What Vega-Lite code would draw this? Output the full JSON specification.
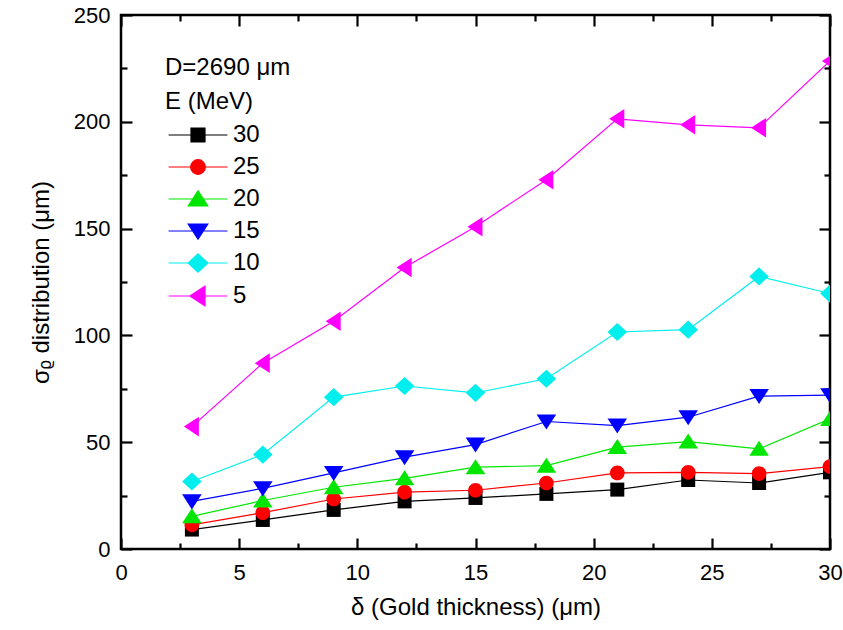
{
  "$schema": "https://vega.github.io/schema/vega-lite/v6.json",
  "width": 709,
  "height": 534,
  "autosize": "none",
  "padding": {"left": 121, "top": 15, "right": 13, "bottom": 81},
  "config": {
    "view": {"stroke": "black", "strokeWidth": 2.5},
    "font": "Liberation Sans",
    "axis": {"domain": false, "grid": false, "labelFlush": false, "tickColor": "black", "tickWidth": 2.2, "labelColor": "black", "titleColor": "black", "labelFont": "Liberation Sans", "titleFont": "Liberation Sans", "labelFontSize": 22, "titleFontSize": 24, "titleFontWeight": "normal"}
  },
  "data": {"values": [
    {"E": "30", "d": 3, "s": 9.1}, {"E": "30", "d": 6, "s": 13.6}, {"E": "30", "d": 9, "s": 18.3}, {"E": "30", "d": 12, "s": 22.3}, {"E": "30", "d": 15, "s": 23.9}, {"E": "30", "d": 18, "s": 25.8}, {"E": "30", "d": 21, "s": 27.8}, {"E": "30", "d": 24, "s": 32.3}, {"E": "30", "d": 27, "s": 30.9}, {"E": "30", "d": 30, "s": 35.9},
    {"E": "25", "d": 3, "s": 11.3}, {"E": "25", "d": 6, "s": 17.0}, {"E": "25", "d": 9, "s": 23.4}, {"E": "25", "d": 12, "s": 26.6}, {"E": "25", "d": 15, "s": 27.5}, {"E": "25", "d": 18, "s": 30.9}, {"E": "25", "d": 21, "s": 35.6}, {"E": "25", "d": 24, "s": 35.9}, {"E": "25", "d": 27, "s": 35.3}, {"E": "25", "d": 30, "s": 38.6},
    {"E": "20", "d": 3, "s": 15.3}, {"E": "20", "d": 6, "s": 22.7}, {"E": "20", "d": 9, "s": 28.9}, {"E": "20", "d": 12, "s": 33.1}, {"E": "20", "d": 15, "s": 38.3}, {"E": "20", "d": 18, "s": 39.0}, {"E": "20", "d": 21, "s": 47.7}, {"E": "20", "d": 24, "s": 50.3}, {"E": "20", "d": 27, "s": 46.9}, {"E": "20", "d": 30, "s": 60.9},
    {"E": "15", "d": 3, "s": 22.3}, {"E": "15", "d": 6, "s": 28.4}, {"E": "15", "d": 9, "s": 35.6}, {"E": "15", "d": 12, "s": 43.0}, {"E": "15", "d": 15, "s": 48.9}, {"E": "15", "d": 18, "s": 59.7}, {"E": "15", "d": 21, "s": 57.8}, {"E": "15", "d": 24, "s": 61.7}, {"E": "15", "d": 27, "s": 71.6}, {"E": "15", "d": 30, "s": 72.0},
    {"E": "10", "d": 3, "s": 31.6}, {"E": "10", "d": 6, "s": 44.2}, {"E": "10", "d": 9, "s": 71.1}, {"E": "10", "d": 12, "s": 76.3}, {"E": "10", "d": 15, "s": 73.1}, {"E": "10", "d": 18, "s": 79.7}, {"E": "10", "d": 21, "s": 101.6}, {"E": "10", "d": 24, "s": 102.7}, {"E": "10", "d": 27, "s": 127.6}, {"E": "10", "d": 30, "s": 119.6},
    {"E": "5", "d": 3, "s": 57.3}, {"E": "5", "d": 6, "s": 87.0}, {"E": "5", "d": 9, "s": 106.6}, {"E": "5", "d": 12, "s": 131.8}, {"E": "5", "d": 15, "s": 150.9}, {"E": "5", "d": 18, "s": 172.9}, {"E": "5", "d": 21, "s": 201.4}, {"E": "5", "d": 24, "s": 198.6}, {"E": "5", "d": 27, "s": 197.2}, {"E": "5", "d": 30, "s": 228.5}
  ]},
  "encoding": {
    "x": {"field": "d", "type": "quantitative", "scale": {"domain": [0, 30], "nice": false, "zero": false}},
    "y": {"field": "s", "type": "quantitative", "scale": {"domain": [0, 250], "nice": false}},
    "color": {"field": "E", "type": "nominal", "legend": null, "scale": {"domain": ["30", "25", "20", "15", "10", "5"], "range": ["#000000", "#ff0000", "#00e600", "#0000ff", "#00eeee", "#ff00ff"]}}
  },
  "layer": [
    {
      "mark": {"type": "line", "strokeWidth": 1.2, "clip": true},
      "encoding": {
        "x": {"field": "d", "type": "quantitative", "axis": {"orient": "bottom", "values": [0, 5, 10, 15, 20, 25, 30], "tickSize": -11, "labelPadding": 24, "title": "δ (Gold thickness) (μm)", "titlePadding": 12}},
        "y": {"field": "s", "type": "quantitative", "axis": {"orient": "left", "values": [0, 50, 100, 150, 200, 250], "tickSize": -11, "labelPadding": 22, "title": "σᵨ distribution (μm)", "titlePadding": 20}}
      }
    },
    {
      "mark": {"type": "point", "filled": true, "opacity": 1, "size": 196, "strokeWidth": 0, "clip": true},
      "encoding": {
        "shape": {"field": "E", "type": "nominal", "legend": null, "scale": {"domain": ["30", "25", "20", "15", "10", "5"], "range": [
            "M-1,-1H1V1H-1Z",
            "M-1.05,0A1.05,1.05,0,1,1,1.05,0A1.05,1.05,0,1,1,-1.05,0Z",
            "M0,-1.15L1.4,1H-1.4Z",
            "M0,1.15L1.4,-1H-1.4Z",
            "M0,-1.3L1.4,0L0,1.3L-1.4,0Z",
            "M-1.15,0L1,-1.4V1.4Z"]}},
        "x": {"field": "d", "type": "quantitative", "axis": {"orient": "top", "values": [0, 5, 10, 15, 20, 25, 30], "tickSize": -11, "labels": false, "title": null}},
        "y": {"field": "s", "type": "quantitative", "axis": {"orient": "right", "values": [0, 50, 100, 150, 200, 250], "tickSize": -11, "labels": false, "title": null}}
      }
    },
    {
      "mark": {"type": "point", "filled": true, "opacity": 0, "size": 196},
      "encoding": {
        "shape": {"field": "E", "type": "nominal",
          "scale": {"domain": ["30", "25", "20", "15", "10", "5"], "range": [
            "M-4.2,0H4.2M-1,-1H1V1H-1Z",
            "M-4.2,0H4.2M-1.05,0A1.05,1.05,0,1,1,1.05,0A1.05,1.05,0,1,1,-1.05,0Z",
            "M-4.2,0H4.2M0,-1.15L1.4,1H-1.4Z",
            "M-4.2,0H4.2M0,1.15L1.4,-1H-1.4Z",
            "M-4.2,0H4.2M0,-1.3L1.4,0L0,1.3L-1.4,0Z",
            "M-4.2,0H4.2M-1.15,0L1,-1.4V1.4Z"]},
          "legend": {"orient": "none", "legendX": 44, "legendY": 41, "title": ["D=2690 μm", "E (MeV)"], "titleFont": "Liberation Sans", "titleFontSize": 24, "titleFontWeight": "normal", "titleColor": "black", "titleLineHeight": 34, "titlePadding": 9, "labelFont": "Liberation Sans", "labelFontSize": 24, "labelColor": "black", "labelOffset": 23, "symbolOffset": 21, "symbolSize": 196, "rowPadding": 8, "symbolOpacity": 1, "symbolStrokeWidth": 1.2}
        },
        "fill": {"field": "E", "type": "nominal", "scale": {"domain": ["30", "25", "20", "15", "10", "5"], "range": ["#000000", "#ff0000", "#00e600", "#0000ff", "#00eeee", "#ff00ff"]},
          "legend": {"orient": "none", "legendX": 44, "legendY": 41, "title": ["D=2690 μm", "E (MeV)"], "titleFont": "Liberation Sans", "titleFontSize": 24, "titleFontWeight": "normal", "titleColor": "black", "titleLineHeight": 34, "titlePadding": 9, "labelFont": "Liberation Sans", "labelFontSize": 24, "labelColor": "black", "labelOffset": 23, "symbolOffset": 21, "symbolSize": 196, "rowPadding": 8, "symbolOpacity": 1, "symbolStrokeWidth": 1.2}},
        "stroke": {"field": "E", "type": "nominal", "scale": {"domain": ["30", "25", "20", "15", "10", "5"], "range": ["#000000", "#ff0000", "#00e600", "#0000ff", "#00eeee", "#ff00ff"]},
          "legend": {"orient": "none", "legendX": 44, "legendY": 41, "title": ["D=2690 μm", "E (MeV)"], "titleFont": "Liberation Sans", "titleFontSize": 24, "titleFontWeight": "normal", "titleColor": "black", "titleLineHeight": 34, "titlePadding": 9, "labelFont": "Liberation Sans", "labelFontSize": 24, "labelColor": "black", "labelOffset": 23, "symbolOffset": 21, "symbolSize": 196, "rowPadding": 8, "symbolOpacity": 1, "symbolStrokeWidth": 1.2}},
        "x": {"field": "d", "type": "quantitative", "axis": {"orient": "bottom", "values": [2.5, 7.5, 12.5, 17.5, 22.5, 27.5], "tickSize": -6, "labels": false, "title": null}},
        "y": {"field": "s", "type": "quantitative", "axis": {"orient": "left", "values": [25, 75, 125, 175, 225], "tickSize": -6, "labels": false, "title": null}}
      }
    },
    {
      "mark": {"type": "point", "opacity": 0},
      "encoding": {
        "x": {"field": "d", "type": "quantitative", "axis": {"orient": "top", "values": [2.5, 7.5, 12.5, 17.5, 22.5, 27.5], "tickSize": -6, "labels": false, "title": null}},
        "y": {"field": "s", "type": "quantitative", "axis": {"orient": "right", "values": [25, 75, 125, 175, 225], "tickSize": -6, "labels": false, "title": null}}
      }
    }
  ],
  "resolve": {"scale": {"shape": "independent", "fill": "independent", "stroke": "independent"}, "axis": {"x": "independent", "y": "independent"}}
}
